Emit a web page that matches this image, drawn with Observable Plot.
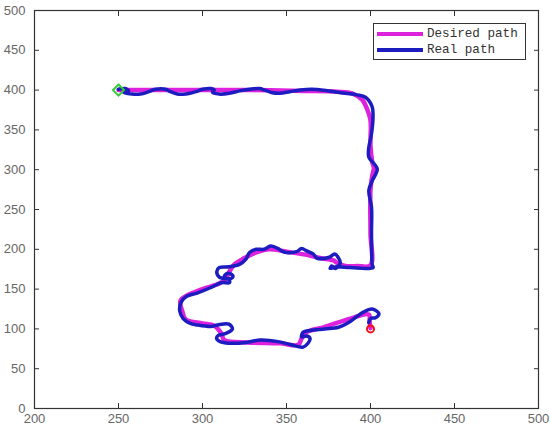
<!DOCTYPE html>
<html>
<head>
<meta charset="utf-8">
<script src="https://cdn.jsdelivr.net/npm/d3@7"></script>
<script src="https://cdn.jsdelivr.net/npm/@observablehq/plot@0.6"></script>
<style>
  body { margin: 0; background: #fff; }
  #wrap { position: relative; width: 550px; height: 432px; }
  #legend { position: absolute; left: 373px; top: 23px; width: 151px; height: 35px;
    border: 1px solid #333; background: #fff; font-family: "Liberation Mono", monospace; font-size: 12.6px; color: #333; }
  .row { position: absolute; left: 3px; height: 16px; display: flex; align-items: center; }
  .sw { width: 46px; height: 4px; margin-right: 4px; }
</style>
</head>
<body>
<div id="wrap"></div>
<script>
const xTicks = [200, 250, 300, 350, 400, 450, 500];
const yTicks = [0, 50, 100, 150, 200, 250, 300, 350, 400, 450, 500];

const seriesNames = ["Desired path", "Real path"];
const seriesColors = ["#dd22dd", "#1c1cc0"];

const desiredX = [250, 270, 300, 330, 360, 380, 389, 395, 398, 400, 400, 401, 402, 401, 400, 400, 400, 392, 385, 380, 378, 370, 362, 350, 340, 332, 325, 319, 316, 314, 310, 300, 287, 288, 290, 300, 307, 311, 313, 327, 346, 357, 359, 362, 372, 388, 399, 399.5, 400];
const desiredY = [400, 400, 400, 400, 399, 398, 396, 388, 376, 362, 330, 310, 302, 292, 275, 220, 180, 179, 179, 183, 186, 189, 193, 197, 200, 196, 189, 181, 172, 163, 157, 150, 136, 122, 112, 107, 104, 95, 86, 83, 82, 80, 88, 96, 102, 113, 118, 108, 101];

const realX = [250, 254, 256, 253, 258, 263, 268, 272, 278, 281, 285, 290, 296, 300, 305, 307, 306, 310, 316, 322, 328, 334, 337, 341, 346, 352, 358, 365, 375, 385, 392, 397, 401, 401.5, 400.6, 399, 399, 404, 401, 399, 400.6, 400.6, 401, 401.5, 388, 380, 376, 377, 379, 382, 381, 378.7, 375.5, 368, 366, 362, 359, 356, 350, 347, 345, 340.6, 336.6, 332, 328, 326, 322, 315.7, 310, 308.5, 310, 314, 317.6, 318, 315, 313, 316, 316, 311, 305, 296.8, 290.6, 287.4, 286.4, 288.5, 292.7, 296.8, 305, 309, 315.7, 317.8, 313.6, 309.4, 308.4, 310.5, 315.7, 326, 334.5, 345, 353, 359.6, 362.8, 364, 362, 359, 360, 364, 372.6, 381, 387, 391.5, 395.7, 401, 405, 403, 400, 399];
const realY = [401, 402, 399, 397, 395, 395, 398, 401, 401, 398, 395, 395, 398, 401, 402, 400, 397, 395, 396, 399, 401, 402, 400, 397, 396, 398, 400, 401, 399, 396, 394, 391, 379, 368, 345, 328, 316, 301, 286, 274, 253, 219, 181, 177, 177, 178, 176, 179, 176, 183, 189, 194, 190, 189, 194, 198, 201, 197, 196, 198, 201, 204, 200, 200, 196, 188, 181, 178, 177, 172, 165, 163, 164, 167, 170, 166, 161, 158, 158, 152, 145, 141, 134, 123, 113, 107, 105, 103, 105, 106, 100, 94, 92, 88, 84, 82, 83, 86, 84, 80, 77, 82, 88, 91, 90, 96, 98, 100, 102, 108, 115, 121, 125, 119, 114, 113, 108];

const startPoint = [{x: 250, y: 400}];
const endPoint = [{x: 400, y: 100}];

const desired = desiredX.map((x, i) => ({x, y: desiredY[i]}));
const real = realX.map((x, i) => ({x, y: realY[i]}));

const plot = Plot.plot({
  width: 550,
  height: 432,
  marginLeft: 34,
  marginRight: 12,
  marginTop: 10,
  marginBottom: 24,
  style: {fontFamily: "Liberation Sans, Arial, sans-serif", fontSize: "13px", color: "#666", background: "#fff"},
  x: {domain: [200, 500]},
  y: {domain: [0, 500]},
  marks: [
    Plot.line(desired, {x: "x", y: "y", stroke: seriesColors[0], strokeWidth: 4.5, curve: "catmull-rom"}),
    Plot.line(real, {x: "x", y: "y", stroke: seriesColors[1], strokeWidth: 3.5, curve: "catmull-rom"}),
    Plot.dot(startPoint, {x: "x", y: "y", symbol: "diamond2", r: 5, stroke: "#33cc33", strokeWidth: 2}),
    Plot.dot(endPoint, {x: "x", y: "y", symbol: "circle", r: 3.5, stroke: "#ee1111", strokeWidth: 2}),
    Plot.axisX(xTicks, {anchor: "bottom", tickSize: -5, tickPadding: 10, stroke: "#333", fill: "#666", label: null}),
    Plot.axisX(xTicks, {anchor: "top", tickSize: -5, tickFormat: () => "", stroke: "#333", label: null}),
    Plot.axisY(yTicks, {anchor: "left", tickSize: -5, tickPadding: 14, stroke: "#333", fill: "#666", label: null}),
    Plot.axisY(yTicks, {anchor: "right", tickSize: -5, tickFormat: () => "", stroke: "#333", label: null}),
    Plot.frame({stroke: "#333", strokeWidth: 1.2})
  ]
});

const wrap = document.getElementById("wrap");
wrap.appendChild(plot);

const legend = document.createElement("div");
legend.id = "legend";
seriesNames.forEach((name, i) => {
  const row = document.createElement("div");
  row.className = "row";
  row.style.top = (i === 0 ? 2 : 18) + "px";
  const sw = document.createElement("div");
  sw.className = "sw";
  sw.style.background = seriesColors[i];
  const t = document.createElement("span");
  t.textContent = name;
  row.appendChild(sw);
  row.appendChild(t);
  legend.appendChild(row);
});
wrap.appendChild(legend);
</script>
</body>
</html>
